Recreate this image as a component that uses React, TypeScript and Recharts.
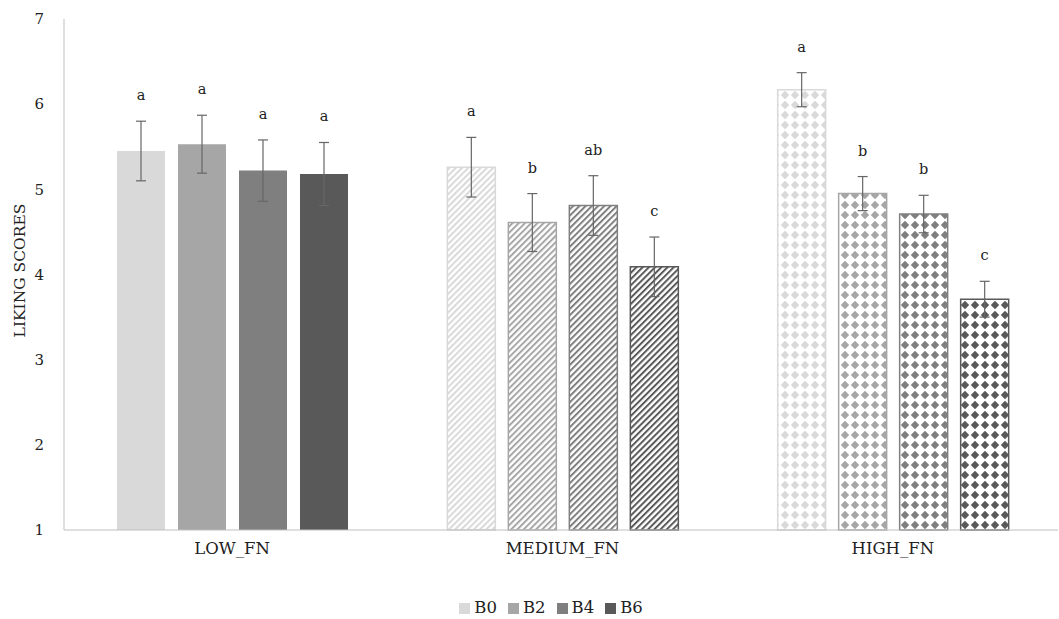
import React from 'react';
import { BarChart, Bar, XAxis, YAxis, ErrorBar, Cell, LabelList, Legend, Label } from 'recharts';

const categories = ['LOW_FN', 'MEDIUM_FN', 'HIGH_FN'];
const seriesNames = ['B0', 'B2', 'B4', 'B6'];
const b0 = [5.45, 5.26, 6.17];
const b2 = [5.53, 4.61, 4.95];
const b4 = [5.22, 4.81, 4.71];
const b6 = [5.18, 4.09, 3.71];
const b0Err = [0.35, 0.35, 0.2];
const b2Err = [0.34, 0.34, 0.2];
const b4Err = [0.36, 0.35, 0.22];
const b6Err = [0.37, 0.35, 0.21];
const b0Letters = ['a', 'a', 'a'];
const b2Letters = ['a', 'b', 'b'];
const b4Letters = ['a', 'ab', 'b'];
const b6Letters = ['a', 'c', 'c'];
const yTicks = [1, 2, 3, 4, 5, 6, 7];

const colors = ['#d9d9d9', '#a6a6a6', '#7f7f7f', '#595959'];
const FONT = "'DejaVu Serif', 'Liberation Serif', serif";

const data = categories.map((c, i) => ({
  category: c,
  b0: b0[i], b0Err: b0Err[i],
  b2: b2[i], b2Err: b2Err[i],
  b4: b4[i], b4Err: b4Err[i],
  b6: b6[i], b6Err: b6Err[i],
}));

const series = [
  { key: 'b0', vals: b0, errs: b0Err, letters: b0Letters },
  { key: 'b2', vals: b2, errs: b2Err, letters: b2Letters },
  { key: 'b4', vals: b4, errs: b4Err, letters: b4Letters },
  { key: 'b6', vals: b6, errs: b6Err, letters: b6Letters },
];

const makeLabel = (vals: number[], errs: number[], letters: string[]) => (props: any) => {
  const vb = props.viewBox || {};
  const x = props.x ?? vb.x;
  const y = props.y ?? vb.y;
  const width = props.width ?? vb.width;
  const height = props.height ?? vb.height;
  const index = props.index;
  if (x == null || index == null) return null;
  const v = vals[index];
  const ppu = height / (v - 1);
  const ty = y - errs[index] * ppu - 26;
  return (
    <text x={x + width / 2} y={ty} textAnchor="middle" dominantBaseline="central"
      fontSize={14.5} fontFamily={FONT} fill="#222">{letters[index]}</text>
  );
};

const YLabel = (props: any) => {
  const vb = props.viewBox || {};
  const cx = vb.x + 20;
  const cy = vb.y + vb.height / 2 - 4;
  return (
    <text x={cx} y={cy} transform={`rotate(-90 ${cx} ${cy})`} textAnchor="middle" dominantBaseline="central"
      fontFamily={FONT} fontSize={15.5} fill="#222">LIKING SCORES</text>
  );
};

const fillFor = (k: number, cat: number) =>
  cat === 0 ? colors[k] : cat === 1 ? `url(#hatch${k})` : `url(#diamond${k})`;

const LegendContent = () => (
  <div style={{ display: 'flex', justifyContent: 'center', fontFamily: FONT, fontSize: 16.5, color: '#222', paddingLeft: 44, lineHeight: '22px' }}>
    {seriesNames.map((n, k) => (
      <div key={n} style={{ display: 'flex', alignItems: 'center', marginRight: k < 3 ? 11 : 0 }}>
        <span style={{ width: 11, height: 11, background: colors[k], display: 'inline-block', marginRight: 4 }} />
        <span>{n}</span>
      </div>
    ))}
  </div>
);

export default function App() {
  return (
    <div style={{ position: 'absolute', left: 0, top: 0, width: 1059, height: 619, background: '#fff' }}>
      <svg width={0} height={0} style={{ position: 'absolute' }}>
        <defs>
          {colors.map((c, k) => (
            <pattern key={'h' + k} id={`hatch${k}`} patternUnits="userSpaceOnUse" width={4.4} height={4.4} patternTransform="rotate(45)">
              <rect width={4.4} height={4.4} fill="#fff" />
              <line x1={1} y1={0} x2={1} y2={4.4} stroke={c} strokeWidth={2} />
            </pattern>
          ))}
          {colors.map((c, k) => (
            <pattern key={'d' + k} id={`diamond${k}`} patternUnits="userSpaceOnUse" width={10} height={10}>
              <rect width={10} height={10} fill="#fff" />
              <polygon points="5,0.8 9.2,5 5,9.2 0.8,5" fill={c} />
            </pattern>
          ))}
        </defs>
      </svg>
      <BarChart width={1059} height={619} data={data}
        margin={{ top: 19, right: 1, bottom: 0, left: 0 }}
        barCategoryGap="15%" barGap={13}>
        <XAxis dataKey="category" axisLine={{ stroke: '#bfbfbf' }} tickLine={false} padding={{ left: 3, right: 0 }}
          tick={{ fontFamily: FONT, fontSize: 16.5, fill: '#222' }} tickMargin={6} height={67} />
        <YAxis domain={[1, 7]} ticks={yTicks} interval={0} axisLine={{ stroke: '#bfbfbf' }} tickLine={false}
          tick={{ fontFamily: FONT, fontSize: 15, fill: '#222' }} tickMargin={14} width={64}>
          <Label content={<YLabel />} />
        </YAxis>
        <Legend verticalAlign="bottom" height={22} content={<LegendContent />} />
        {series.map((s, k) => (
          <Bar key={s.key} dataKey={s.key} name={seriesNames[k]} isAnimationActive={false} barSize={48}>
            {categories.map((c, i) => (
              <Cell key={c} fill={fillFor(k, i)} stroke={i === 0 ? 'none' : colors[k]} strokeWidth={1.5} />
            ))}
            <ErrorBar dataKey={s.key + 'Err'} width={5} stroke="#666" strokeWidth={1.2} isAnimationActive={false} />
            <LabelList dataKey={s.key} content={makeLabel(s.vals, s.errs, s.letters)} />
          </Bar>
        ))}
      </BarChart>
    </div>
  );
}
